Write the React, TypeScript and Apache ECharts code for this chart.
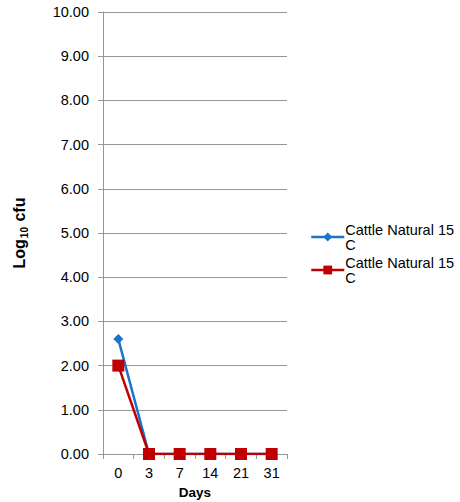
import React, { useEffect, useRef } from "react";
import * as echarts from "echarts";

const categories = ["0", "3", "7", "14", "21", "31"];
const seriesNames = ["Cattle Natural 15 C", "Cattle Natural 15 C "];
const blueValues = [2.6, 0, 0, 0, 0, 0];
const redValues = [2.0, 0, 0, 0, 0, 0];
const yTicks = { min: 0, max: 10, interval: 1 };

export default function App() {
  const ref = useRef<HTMLDivElement>(null);
  useEffect(() => {
    if (!ref.current) return;
    const chart = echarts.init(ref.current, null, { renderer: "svg" });
    const font = "Liberation Sans, Arial, sans-serif";
    const fs = 14.5;
    chart.setOption({
      animation: false,
      backgroundColor: "#ffffff",
      textStyle: { fontFamily: font },
      grid: {
        left: 103,
        top: 12,
        width: 184,
        height: 442,
        containLabel: false,
        outerBoundsMode: "none",
      },
      legend: {
        left: 305,
        top: 217,
        orient: "vertical",
        itemGap: 3,
        itemWidth: 33,
        itemHeight: 11,
        lineStyle: { width: 2.5 },
        formatter: (n: string) => n.trim().replace("15 C", "15\nC"),
        textStyle: { fontSize: fs, color: "#000", fontFamily: font, lineHeight: 15, padding: [0, 0, 0, -4] },
        data: seriesNames,
      },
      xAxis: {
        type: "category",
        data: categories,
        boundaryGap: true,
        name: "Days",
        nameLocation: "middle",
        nameGap: 31,
        nameTextStyle: { fontSize: 13.5, fontWeight: "bold", color: "#000", fontFamily: font },
        axisLine: { lineStyle: { color: "#969696" } },
        axisTick: { show: true, length: 5, lineStyle: { color: "#969696" } },
        axisLabel: { fontSize: fs, color: "#000", margin: 11, fontFamily: font },
      },
      yAxis: {
        type: "value",
        min: yTicks.min,
        max: yTicks.max,
        interval: yTicks.interval,
        name: "{a|Log}{b|10}{a| cfu}",
        nameLocation: "middle",
        nameRotate: 90,
        nameGap: 74,
        nameTextStyle: {
          rich: {
            a: { fontSize: 16, fontWeight: "bold", color: "#000", fontFamily: font, lineHeight: 20 },
            b: {
              fontSize: 10,
              fontWeight: "bold",
              color: "#000",
              fontFamily: font,
              verticalAlign: "bottom",
              lineHeight: 10,
              padding: [0, 1, 0, 1],
            },
          },
        },
        axisLine: { show: true, lineStyle: { color: "#969696" } },
        axisTick: { show: true, length: 5, lineStyle: { color: "#969696" } },
        splitLine: { lineStyle: { color: "#969696" } },
        axisLabel: {
          fontSize: fs,
          color: "#000",
          margin: 14,
          fontFamily: font,
          formatter: (v: number) => v.toFixed(2),
        },
      },
      series: [
        {
          name: seriesNames[0],
          type: "line",
          data: blueValues,
          symbol: "diamond",
          symbolSize: 10,
          color: "#1a75c9",
          lineStyle: { width: 2.5, color: "#1a75c9" },
          itemStyle: { color: "#1a75c9" },
        },
        {
          name: seriesNames[1],
          type: "line",
          data: redValues,
          symbol: "rect",
          symbolSize: 12,
          color: "#c00000",
          lineStyle: { width: 2.5, color: "#c00000" },
          itemStyle: { color: "#c00000" },
        },
      ],
    });
    return () => chart.dispose();
  }, []);
  return (
    <div
      ref={ref}
      style={{ position: "fixed", left: 0, top: 0, width: 460, height: 502, background: "#fff" }}
    />
  );
}
